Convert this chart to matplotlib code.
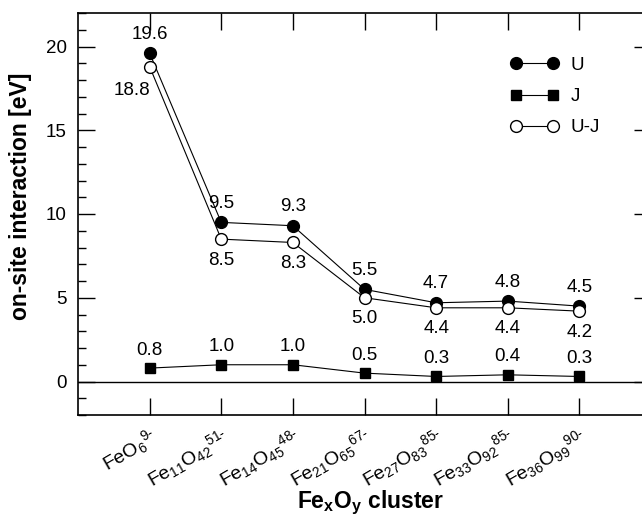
import numpy as np
import matplotlib
matplotlib.use("Agg")
import matplotlib.pyplot as plt
import matplotlib.transforms as mtransforms
from matplotlib.ticker import MultipleLocator

plt.rcParams['font.family'] = ['Liberation Sans', 'DejaVu Sans']
plt.rcParams['mathtext.fontset'] = 'custom'
plt.rcParams['mathtext.rm'] = 'Liberation Sans'
plt.rcParams['mathtext.it'] = 'Liberation Sans'
plt.rcParams['mathtext.bf'] = 'Liberation Sans:bold'

clusters = [r'FeO$_6{}^{9\text{-}}$', r'Fe$_{11}$O$_{42}{}^{51\text{-}}$', r'Fe$_{14}$O$_{45}{}^{48\text{-}}$',
            r'Fe$_{21}$O$_{65}{}^{67\text{-}}$', r'Fe$_{27}$O$_{83}{}^{85\text{-}}$', r'Fe$_{33}$O$_{92}{}^{85\text{-}}$',
            r'Fe$_{36}$O$_{99}{}^{90\text{-}}$']
U = [19.6, 9.5, 9.3, 5.5, 4.7, 4.8, 4.5]
J = [0.8, 1.0, 1.0, 0.5, 0.3, 0.4, 0.3]
UJ = [18.8, 8.5, 8.3, 5.0, 4.4, 4.4, 4.2]

x = np.arange(1, len(clusters) + 1)

fig = plt.figure(figsize=(6.42, 5.17), dpi=100)
ax = fig.add_axes([78/642, 1 - 415/517, 573/642, 402/517])

ax.axhline(0, color='black', lw=1.0)
ax.plot(x, U, '-o', color='black', mfc='black', mec='black', ms=8.5, lw=0.8, label='U')
ax.plot(x, J, '-s', color='black', mfc='black', mec='black', ms=7, lw=0.8, label='J')
ax.plot(x, UJ, '-o', color='black', mfc='white', mec='black', ms=8.5, lw=0.8, label='U-J')

fs = 13.5
for i in range(len(x)):
    ax.annotate('%.1f' % U[i], (x[i], U[i]), xytext=(0, 19), textcoords='offset pixels',
                ha='center', va='center', fontsize=fs)
    ax.annotate('%.1f' % J[i], (x[i], J[i]), xytext=(0, 18), textcoords='offset pixels',
                ha='center', va='center', fontsize=fs)
    if i == 0:
        off = (-18, -24)
    else:
        off = (0, -21)
    ax.annotate('%.1f' % UJ[i], (x[i], UJ[i]), xytext=off, textcoords='offset pixels',
                ha='center', va='center', fontsize=fs)

ax.set_xlim(0, 8)
ax.set_ylim(-2, 22)
ax.set_xticks(x)
ax.set_xticklabels(clusters, rotation=30, ha='right', rotation_mode='anchor', fontsize=14)
shift = mtransforms.ScaledTranslation(10/100, 0, fig.dpi_scale_trans)
for lab in ax.get_xticklabels():
    lab.set_transform(lab.get_transform() + shift)
ax.yaxis.set_major_locator(MultipleLocator(5))
ax.yaxis.set_minor_locator(MultipleLocator(1))
ax.tick_params(axis='x', direction='in', top=True, length=12, width=1, pad=7)
ax.tick_params(axis='y', which='major', direction='in', right=True, length=12, width=1,
               labelsize=fs, pad=8)
ax.tick_params(axis='y', which='minor', direction='in', left=True, right=False, length=6, width=1)
for s in ax.spines.values():
    s.set_linewidth(1.2)

ax.set_ylabel('on-site interaction [eV]', fontsize=16.5, fontweight='bold')
ax.yaxis.set_label_coords(-0.08, 0.545)
ax.set_xlabel(r'$\mathbf{Fe_xO_y}$ cluster', fontsize=16.5, fontweight='bold')
ax.xaxis.set_label_coords(0.51, -0.183)

ax.legend(loc='upper left', bbox_to_anchor=(0.725, 0.933), frameon=False, numpoints=2,
          fontsize=fs, handlelength=2.6, labelspacing=0.75, handletextpad=0.6)

fig.savefig('out.png', dpi=100)
